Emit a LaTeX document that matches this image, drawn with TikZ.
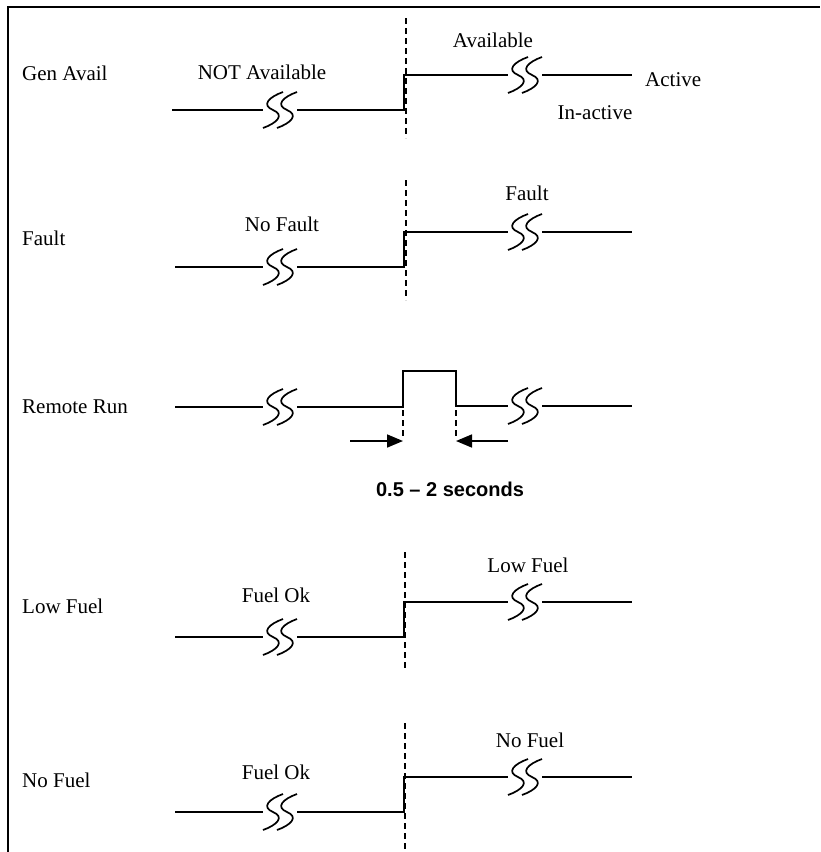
\documentclass[tikz,border=0pt]{standalone}
\usepackage{fontspec}
\setmainfont{Liberation Serif}
\newfontfamily\arialfont{Liberation Sans}
\usetikzlibrary{arrows.meta}
\begin{document}
\begin{tikzpicture}[x=1pt,y=-1pt,
  sig/.style={line width=1.7pt, line join=miter},
  guide/.style={line width=1.4pt, dash pattern=on 6pt off 4pt},
  lbl/.style={font=\fontsize{21}{24}\selectfont, inner sep=0pt},
  brk/.pic={
    \foreach \dx in {-7,7}{
      \draw[line width=1.7pt] (\dx+10,-18) .. controls (\dx-4,-13) and (\dx-12,-5) .. (\dx,0)
        .. controls (\dx+12,5) and (\dx+4,13) .. (\dx-10,18);
    }
  },
  arr/.style={line width=1.7pt, -{Triangle[length=16pt,width=13pt]}}
]
\useasboundingbox (0,0) rectangle (820,852);
\fill[white] (0,0) rectangle (820,852);
% frame
\draw[line width=2.5pt] (8,852) -- (8,7) -- (820,7);

% ---------- Row 1: Gen Avail ----------
\node[lbl, anchor=west] (l1) at (22,73) {Gen Avail};
\draw[guide] (406,18) -- (406,138);
\draw[sig] (172,110) -- (263,110);
\draw[sig] (297,110) -- (404,110) -- (404,75) -- (508,75);
\draw[sig] (542,75) -- (632,75);
\pic at (280,110) {brk};
\pic at (525,75) {brk};
\node[lbl] (t1a) at (262,72) {NOT Available};
\node[lbl] (t1b) at (493,40) {Available};
\node[lbl, anchor=west] (t1c) at (645,80) {Active};
\node[lbl] (t1d) at (595,113) {In-active};

% ---------- Row 2: Fault ----------
\node[lbl, anchor=west] (l2) at (22,238) {Fault};
\draw[guide] (406,180) -- (406,300);
\draw[sig] (175,267) -- (263,267);
\draw[sig] (297,267) -- (404,267) -- (404,232) -- (508,232);
\draw[sig] (542,232) -- (632,232);
\pic at (280,267) {brk};
\pic at (525,232) {brk};
\node[lbl] (t2a) at (282,224) {No Fault};
\node[lbl] (t2b) at (527,193) {Fault};

% ---------- Row 3: Remote Run ----------
\node[lbl, anchor=west] (l3) at (22,407) {Remote Run};
\draw[sig] (175,407) -- (263,407);
\draw[sig] (297,407) -- (403,407) -- (403,371) -- (456,371) -- (456,406) -- (508,406);
\draw[sig] (542,406) -- (632,406);
\pic at (280,407) {brk};
\pic at (525,406) {brk};
\coordinate (dl) at (403,410);
\coordinate (dr) at (456,410);
\draw[guide] (dl) -- ++(0,28);
\draw[guide] (dr) -- ++(0,28);
\coordinate (al) at (350,441);
\coordinate (ar) at (508,441);
\draw[arr] (al) -- (403,441);
\draw[arr] (ar) -- (456,441);
\node[inner sep=0pt, font=\arialfont\bfseries\fontsize{20}{24}\selectfont] (t3) at (450,489) {0.5 – 2 seconds};

% ---------- Row 4: Low Fuel ----------
\node[lbl, anchor=west] (l4) at (22,606) {Low Fuel};
\draw[guide] (405,552) -- (405,668);
\draw[sig] (175,637) -- (263,637);
\draw[sig] (297,637) -- (404,637) -- (404,602) -- (508,602);
\draw[sig] (542,602) -- (632,602);
\pic at (280,637) {brk};
\pic at (525,602) {brk};
\node[lbl] (t4a) at (276,595) {Fuel Ok};
\node[lbl] (t4b) at (528,565) {Low Fuel};

% ---------- Row 5: No Fuel ----------
\node[lbl, anchor=west] (l5) at (22,780) {No Fuel};
\draw[guide] (405,723) -- (405,852);
\draw[sig] (175,812) -- (263,812);
\draw[sig] (297,812) -- (404,812) -- (404,777) -- (508,777);
\draw[sig] (542,777) -- (632,777);
\pic at (280,812) {brk};
\pic at (525,777) {brk};
\node[lbl] (t5a) at (276,772) {Fuel Ok};
\node[lbl] (t5b) at (530,740) {No Fuel};
\end{tikzpicture}
\end{document}
